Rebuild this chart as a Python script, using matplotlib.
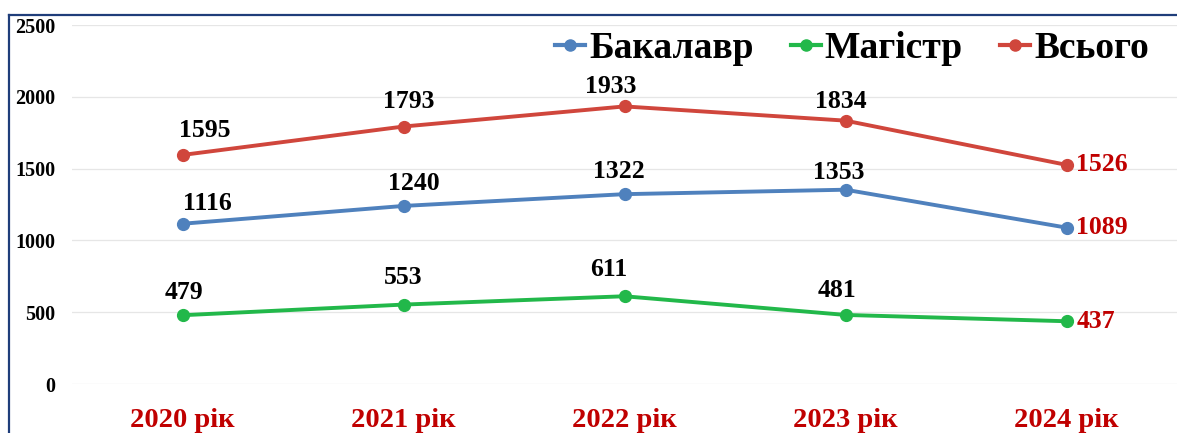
import numpy as np
import matplotlib
matplotlib.use('Agg')
import matplotlib.pyplot as plt
from matplotlib.lines import Line2D

years = ['2020 рік', '2021 рік', '2022 рік', '2023 рік', '2024 рік']
bachelor = [1116, 1240, 1322, 1353, 1089]
master = [479, 553, 611, 481, 437]
total = [1595, 1793, 1933, 1834, 1526]
series_names = ['Бакалавр', 'Магістр', 'Всього']

BLUE = '#4F81BD'
GREEN = '#22B84A'
RED = '#D0463C'
DARKRED = '#C00000'
SERIF = ['Liberation Serif', 'DejaVu Serif']

W, H = 1177, 433
fig = plt.figure(figsize=(W / 100, H / 100), dpi=100)
# plot area in pixel coords: x 72..1177, y 25 (2500) .. 384 (0)
ax = fig.add_axes([72 / W, 1 - 384 / H, (1177 - 72) / W, (384 - 25) / H])

x = np.arange(len(years))
for vals, col in [(bachelor, BLUE), (master, GREEN), (total, RED)]:
    ax.plot(x, vals, color=col, lw=2.8, marker='o', ms=8.5, zorder=3)

ax.set_xlim(-0.5, len(years) - 0.5)
ax.set_ylim(0, 2500)
ax.set_yticks(np.arange(0, 2501, 500))
ax.grid(axis='y', color='#E6E6E6', lw=0.9)
ax.set_axisbelow(True)
for s in ax.spines.values():
    s.set_visible(False)
ax.tick_params(length=0)
ax.set_xticks(x)
ax.set_xticklabels(years, fontfamily=SERIF, fontweight='bold', fontsize=20.5, color=DARKRED)
ax.tick_params(axis='x', pad=17)
for lab in ax.get_yticklabels():
    lab.set_fontfamily(SERIF)
    lab.set_fontweight('bold')
    lab.set_fontsize(14.5)
ax.tick_params(axis='y', pad=12)

# label offsets (pixels) for the first four years: (dx, dy up)
offs_total = [(22, 24), (5, 25), (-14, 20), (-5, 19)]
offs_bach = [(25, 20), (10, 22), (-6, 23), (-7, 17)]
offs_mast = [(1, 23), (0, 27), (-16, 27), (-9, 24)]
k = 0.72
for vals, offs in [(total, offs_total), (bachelor, offs_bach), (master, offs_mast)]:
    for i in range(4):
        dx, dy = offs[i]
        ax.annotate(str(vals[i]), (x[i], vals[i]), xytext=(dx * k, dy * k),
                    textcoords='offset points', ha='center', va='center',
                    fontfamily=SERIF, fontweight='bold', fontsize=18.5, color='black')
    ax.annotate(str(vals[4]), (x[4], vals[4]), xytext=(10 * k, 0),
                textcoords='offset points', ha='left', va='center',
                fontfamily=SERIF, fontweight='bold', fontsize=18.5, color=DARKRED)

handles = [Line2D([], [], color=c, lw=3, marker='o', ms=8) for c in (BLUE, GREEN, RED)]
leg = ax.legend(handles, series_names, loc='upper right', bbox_to_anchor=(1.005, 1.076),
                ncol=3, frameon=False, handlelength=0.8, handletextpad=0.1,
                columnspacing=1.0,
                prop={'family': SERIF, 'weight': 'bold', 'size': 27})

# dark blue frame (top and left edges visible)
fig.add_artist(Line2D([9 / W, 1], [1 - 15 / H, 1 - 15 / H], color='#1F3D7A', lw=1.6))
fig.add_artist(Line2D([9 / W, 9 / W], [0, 1 - 15 / H], color='#1F3D7A', lw=1.6))

fig.savefig('out.png', dpi=100)
